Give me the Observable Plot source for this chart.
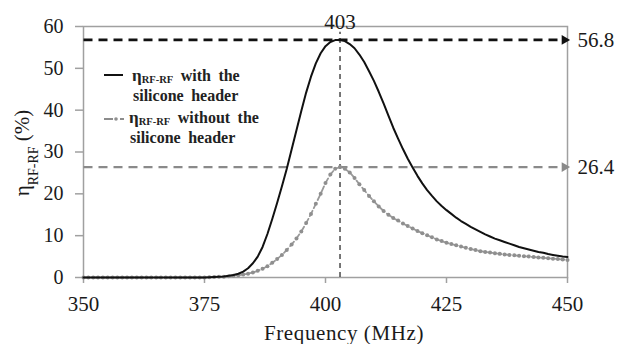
<!DOCTYPE html>
<html><head><meta charset="utf-8">
<script src="https://cdn.jsdelivr.net/npm/d3@7"></script>
<script src="https://cdn.jsdelivr.net/npm/@observablehq/plot@0.6"></script>
<style>
body{margin:0;background:#fff}
#chart{width:627px;height:344px}
#chart svg, #chart svg text{font-family:"Liberation Serif", "DejaVu Serif", serif !important}
</style>
</head><body><div id="chart"></div>
<script>
// Frequency samples (MHz), 1 MHz step from 350 to 450
const frequency = d3.range(350, 451);
// η_RF-RF (%) with the silicone header
const withHeader = [
  0,0,0,0,0,0,0,0,0,0,
  0,0,0,0,0,0,0,0,0,0,
  0,0,0,0,0,0,0.05,0.1,0.15,0.25,
  0.4,0.6,0.9,1.4,2.2,3.4,5.0,7.3,10.4,14.0,
  17.8,21.8,26.0,30.6,35.2,39.8,44.2,48.0,51.2,53.6,
  55.3,56.3,56.75,56.8,56.5,55.8,54.8,53.3,51.5,49.3,
  47.0,44.4,41.6,38.7,35.8,33.2,30.7,28.4,26.3,24.3,
  22.5,20.9,19.5,18.2,17.1,16.1,15.2,14.3,13.5,12.8,
  12.1,11.5,10.9,10.3,9.8,9.3,8.9,8.5,8.1,7.7,
  7.3,7.0,6.7,6.4,6.1,5.9,5.6,5.4,5.2,5.0,
  4.9
];
// η_RF-RF (%) without the silicone header
const withoutHeader = [
  0,0,0,0,0,0,0,0,0,0,
  0,0,0,0,0,0,0,0,0,0,
  0,0,0,0,0,0,0.05,0.1,0.15,0.2,
  0.3,0.4,0.55,0.7,0.9,1.2,1.6,2.1,2.7,3.5,
  4.4,5.4,6.6,7.9,9.3,11.0,13.0,15.2,17.6,20.0,
  22.6,24.6,26.0,26.4,26.0,25.1,23.8,22.3,20.9,19.5,
  18.2,17.0,15.9,15.0,14.2,13.6,12.9,12.3,11.7,11.1,
  10.6,10.1,9.6,9.1,8.7,8.3,8.0,7.7,7.4,7.1,
  6.8,6.6,6.3,6.1,5.95,5.8,5.65,5.5,5.4,5.3,
  5.2,5.1,5.0,4.9,4.8,4.7,4.6,4.5,4.4,4.3,
  4.2
];
const xTicks = [350, 375, 400, 425, 450];
const yTicks = [0, 10, 20, 30, 40, 50, 60];
const peakFreq = 403;
const peakWith = 56.8;
const peakWithout = 26.4;
const xDomain = [350, 450];
const yDomain = [0, 60];

const dataWith = frequency.map((f, i) => ({f, v: withHeader[i]}));
const dataWithout = frequency.map((f, i) => ({f, v: withoutHeader[i]}));
const hLines = [
  {v: peakWith, stroke: "#111", w: 2.6, label: "56.8"},
  {v: peakWithout, stroke: "#8a8a8a", w: 2.2, label: "26.4"}
];

const serif = "Liberation Serif";
const svg = Plot.plot({
  width: 627, height: 344,
  marginLeft: 83, marginRight: 60, marginTop: 26, marginBottom: 67,
  style: {fontFamily: serif, fontSize: "17px", color: "#1a1a1a", background: "#fff"},
  x: {domain: xDomain},
  y: {domain: yDomain},
  marks: [
    Plot.frame({stroke: "#a0a0a0", strokeWidth: 1.5}),
    Plot.axisX({ticks: xTicks, tickSize: 6, tickPadding: 13, stroke: "#a0a0a0", strokeWidth: 1.5, fill: "#1a1a1a", fontSize: 21, label: null}),
    Plot.axisY({ticks: yTicks, tickSize: 8, tickPadding: 12, stroke: "#a0a0a0", strokeWidth: 1.5, fill: "#1a1a1a", fontSize: 20, label: null}),
    // vertical marker at peak frequency
    Plot.ruleX([peakFreq], {x: d => d, y1: 0, y2: 58.6, stroke: "#555", strokeWidth: 1.6, strokeDasharray: "5,4"}),
    // horizontal peak lines with arrows
    Plot.link(hLines, {x1: xDomain[0], x2: 448.6, y1: "v", y2: "v", stroke: d => d.stroke, strokeWidth: d => d.w, strokeDasharray: "9,6"}),
    Plot.dot(hLines, {x: xDomain[1], y: "v", symbol: "triangle", r: 3.6, rotate: 90, dx: -3, fill: d => d.stroke, stroke: "none"}),
    Plot.text(hLines, {x: xDomain[1], y: "v", text: "label", textAnchor: "start", dx: 10, fontSize: 21, fill: "#1a1a1a"}),
    Plot.text([peakFreq], {x: d => d, text: d => String(d), frameAnchor: "top", dy: -12, fontSize: 21, fill: "#1a1a1a"}),
    // series
    Plot.line(dataWithout, {x: "f", y: "v", stroke: "#9a9a9a", strokeWidth: 1.8, strokeDasharray: "6,3"}),
    Plot.dot(dataWithout, {x: "f", y: "v", r: 2, fill: "#8f8f8f", stroke: "none"}),
    Plot.line(dataWith, {x: "f", y: "v", stroke: "#111", strokeWidth: 2})
  ]
});
const sel = d3.select(svg);

// x axis title
sel.append("text").attr("x", 344).attr("y", 340).attr("text-anchor", "middle")
  .attr("font-size", 21).attr("letter-spacing", 0.6).attr("fill", "#1a1a1a").attr("font-family", serif)
  .text("Frequency (MHz)");

// y axis title with subscript
const yl = sel.append("text").attr("transform", "translate(28.5,153) rotate(-90)")
  .attr("text-anchor", "middle").attr("font-size", 21).attr("fill", "#1a1a1a").attr("font-family", serif);
yl.append("tspan").text("η");
yl.append("tspan").attr("font-size", 14).attr("dy", 9).text("RF-RF");
yl.append("tspan").attr("dy", -9).text(" (%)");

// legend
const lg = sel.append("g").attr("font-family", serif).attr("font-weight", "bold").attr("font-size", 16)
  .attr("fill", "#222").attr("text-anchor", "start");
lg.append("line").attr("x1", 104).attr("x2", 123).attr("y1", 75).attr("y2", 75).attr("stroke", "#111").attr("stroke-width", 2);
const t1 = lg.append("text").attr("x", 132).attr("y", 81).attr("word-spacing", 3.5);
t1.append("tspan").attr("font-size", 17).text("η");
t1.append("tspan").attr("font-size", 10.5).attr("dy", 2).text("RF-RF");
t1.append("tspan").attr("dy", -2).text(" with the");
lg.append("text").attr("x", 133).attr("y", 101).attr("word-spacing", 3.5).text("silicone header");
lg.append("line").attr("x1", 104).attr("x2", 113).attr("y1", 119).attr("y2", 119).attr("stroke", "#8c8c8c").attr("stroke-width", 2);
lg.append("circle").attr("cx", 116).attr("cy", 119).attr("r", 1.8).attr("fill", "#8f8f8f");
lg.append("line").attr("x1", 120).attr("x2", 124).attr("y1", 119).attr("y2", 119).attr("stroke", "#8c8c8c").attr("stroke-width", 2);
const t3 = lg.append("text").attr("x", 129).attr("y", 123).attr("word-spacing", 3.5);
t3.append("tspan").attr("font-size", 17).text("η");
t3.append("tspan").attr("font-size", 10.5).attr("dy", 2).text("RF-RF");
t3.append("tspan").attr("dy", -2).text(" without the");
lg.append("text").attr("x", 130).attr("y", 143).attr("word-spacing", 3.5).text("silicone header");

document.getElementById("chart").appendChild(svg);
</script>
</body></html>
